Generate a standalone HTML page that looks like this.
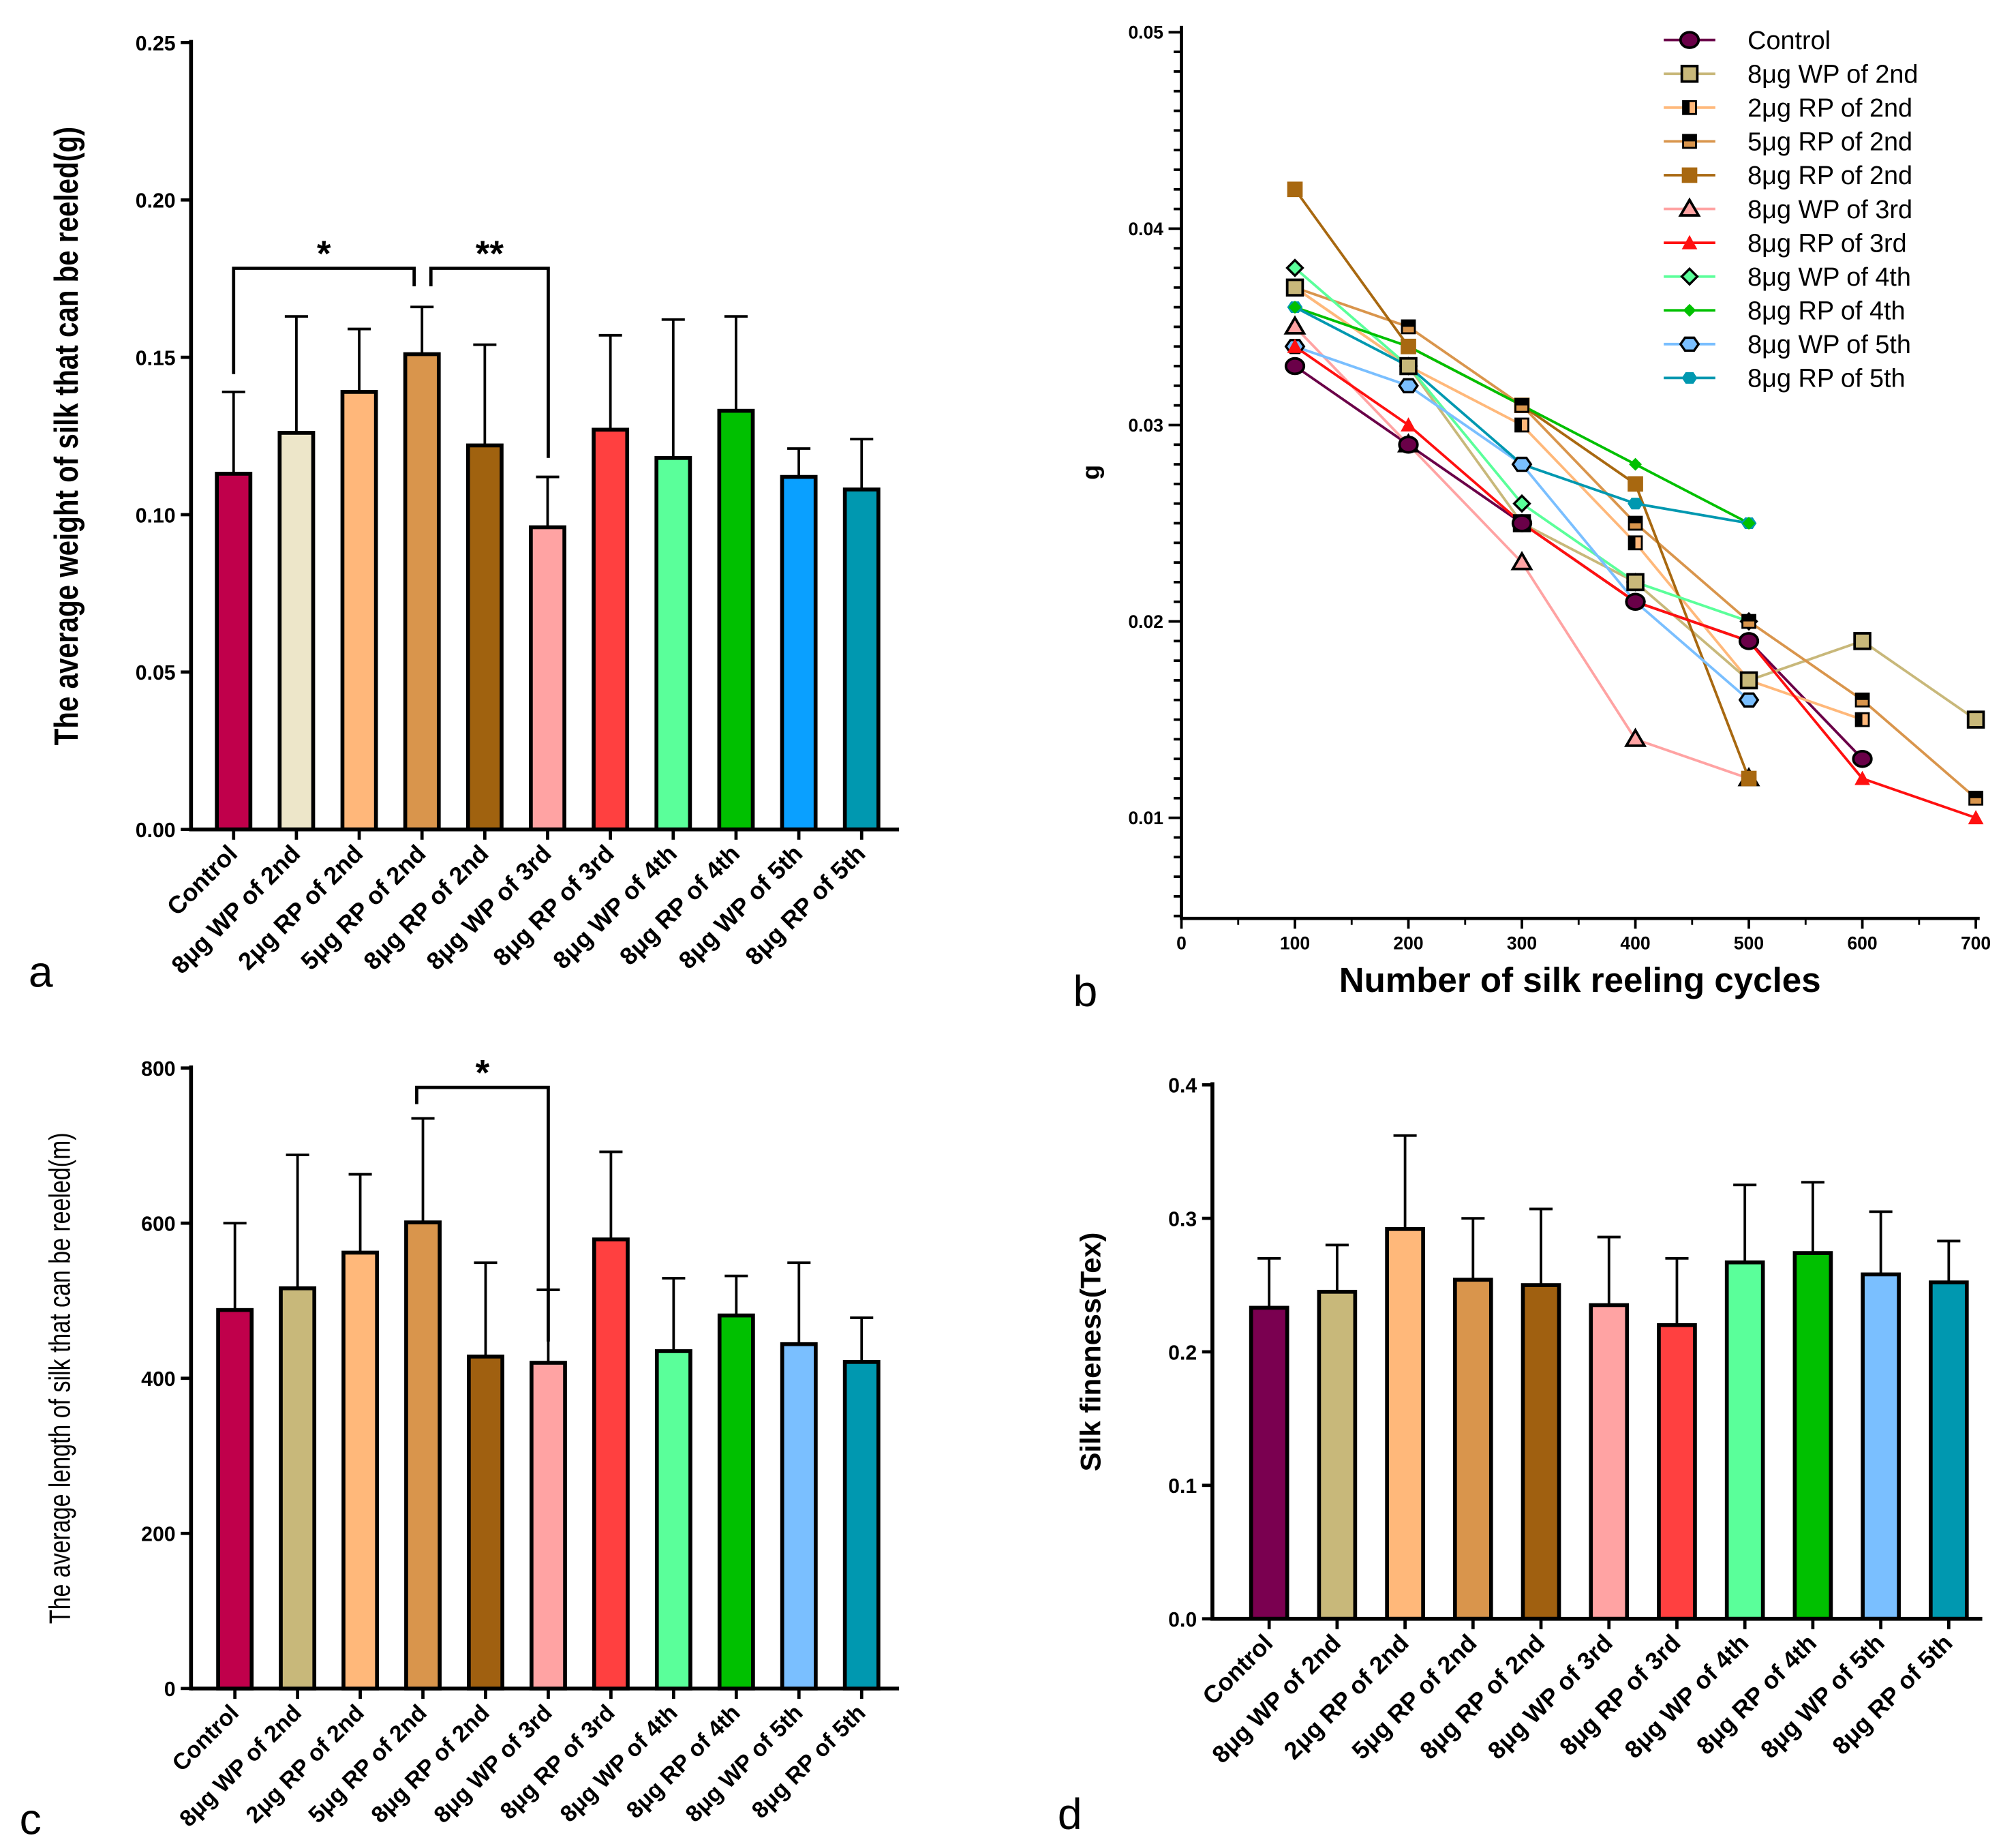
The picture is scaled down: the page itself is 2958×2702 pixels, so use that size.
<!DOCTYPE html>
<html><head><meta charset="utf-8">
<style>html,body{margin:0;padding:0;background:#fff}svg{display:block}text{font-family:"Liberation Sans",Arial,sans-serif}</style>
</head><body>
<svg id="fig" width="2958" height="2702" viewBox="0 0 1563 1428" xmlns="http://www.w3.org/2000/svg"></svg>
<script>
const cats=["Control","8μg WP of 2nd","2μg RP of 2nd","5μg RP of 2nd","8μg RP of 2nd","8μg WP of 3rd","8μg RP of 3rd","8μg WP of 4th","8μg RP of 4th","8μg WP of 5th","8μg RP of 5th"];
const aVals=[0.113,0.126,0.139,0.151,0.122,0.096,0.127,0.118,0.133,0.112,0.108];
const aErr=[0.139,0.163,0.159,0.166,0.154,0.112,0.157,0.162,0.163,0.121,0.124];
const aTicks=[0,0.05,0.10,0.15,0.20,0.25];
const cVals=[488,516,562,601,428,420,579,435,481,444,421];
const cErr=[600,688,663,735,549,514,692,529,532,549,478];
const cTicks=[0,200,400,600,800];
const dVals=[0.233,0.245,0.292,0.254,0.250,0.235,0.220,0.267,0.274,0.258,0.252];
const dErr=[0.270,0.280,0.362,0.300,0.307,0.286,0.270,0.325,0.327,0.305,0.283];
const dTicks=[0,0.1,0.2,0.3,0.4];
const bX=[100,200,300,400,500,600,700];
const bNames=["Control","8μg WP of 2nd","2μg RP of 2nd","5μg RP of 2nd","8μg RP of 2nd","8μg WP of 3rd","8μg RP of 3rd","8μg WP of 4th","8μg RP of 4th","8μg WP of 5th","8μg RP of 5th"];
const bControl=[0.033,0.029,0.025,0.021,0.019,0.013];
const bWP2=[0.037,0.033,0.025,0.022,0.017,0.019,0.015];
const bRP2a=[0.037,0.033,0.030,0.024,0.017,0.015];
const bRP2b=[0.037,0.035,0.031,0.025,0.020,0.016,0.011];
const bRP2c=[0.042,0.034,0.031,0.027,0.012];
const bWP3=[0.035,0.029,0.023,0.014,0.012];
const bRP3=[0.034,0.030,0.025,0.021,0.019,0.012,0.010];
const bWP4=[0.038,0.033,0.026,0.022,0.020];
const bRP4=[0.036,0.034,0.031,0.028,0.025];
const bWP5=[0.034,0.032,0.028,0.021,0.016];
const bRP5=[0.036,0.033,0.028,0.026,0.025];
const bYTicks=[0.01,0.02,0.03,0.04,0.05];
const bXTicks=[0,100,200,300,400,500,600,700];

const NS="http://www.w3.org/2000/svg";const svg=document.getElementById('fig');
function el(t,a,p){const e=document.createElementNS(NS,t);for(const k in a)e.setAttribute(k,a[k]);(p||svg).appendChild(e);return e;}
function tx(s,a,p){const e=el('text',a,p);e.textContent=s;return e;}

function barChart(o){
  const g=el('g',{});
  
  
  const y=v=>o.y0+(v-o.t[0])/(o.t[o.t.length-1]-o.t[0])*(o.y1-o.y0);
  const x=i=>o.xs+i*o.step;
  o.vals.forEach((v,i)=>{
    const eb=el('line',{x1:x(i),x2:x(i),y1:y(v),y2:y(o.err[i]),stroke:'#000','stroke-width':2},g);
    
    const cap=el('line',{x1:x(i)-9,x2:x(i)+9,y1:y(o.err[i]),y2:y(o.err[i]),stroke:'#000','stroke-width':2},g);
    
    const r=el('rect',{x:x(i)-o.bw/2,y:y(v),width:o.bw,height:y(0)-y(v),fill:o.colors[i],stroke:'#000','stroke-width':3},g);
    
    el('line',{x1:x(i),x2:x(i),y1:y(0),y2:y(0)+8,stroke:'#000','stroke-width':2.5},g);
    const l=tx(cats[i],{x:x(i)+4,y:y(0)+20,'text-anchor':'end','font-size':o.fs,'font-weight':'bold',transform:`rotate(-45 ${x(i)+4} ${y(0)+20})`},g);
    
  });
  el('line',{x1:o.ax,x2:o.ax,y1:o.y1-2,y2:y(0)+1.5,stroke:'#000','stroke-width':3},g);
  el('line',{x1:o.ax,x2:o.xe,y1:y(0),y2:y(0),stroke:'#000','stroke-width':3},g);
  o.t.forEach(t=>{el('line',{x1:o.ax-8,x2:o.ax,y1:y(t),y2:y(t),stroke:'#000','stroke-width':2.5},g);
    const tl=tx(o.fmt(t),{x:o.ax-12,y:y(t)+6,'text-anchor':'end','font-size':16,'font-weight':'bold'},g);
    });
  const yt=tx(o.title,{x:0,y:0,'text-anchor':'middle','font-size':o.tfs,'font-weight':o.tw,transform:`translate(${o.tx},${(o.y1+y(0))/2}) rotate(-90) scale(${o.sx},1)`},g);
  
  return {g,y,x};
}
const colA=['#c0004b','#ede6c9','#ffb77a','#d9954c','#a0620f','#ffa3a3','#ff4040','#5aff9a','#00c000','#0aa0ff','#0098b0'];
const colC=['#c0004b','#c8b87a','#ffb87a','#d9954c','#a06010','#ffa3a3','#ff4040','#5aff9a','#00c000','#7abfff','#0098b0'];
const colD=['#7a0050','#c8b87a','#ffb87a','#d9954c','#a06010','#ffa3a3','#ff4040','#5aff9a','#00c000','#7abfff','#0098b0'];

const A=barChart({name:'panel-a-chart',vals:aVals,err:aErr,t:aTicks,y0:643,y1:33,xs:181,step:48.7,bw:26,ax:148,xe:697,colors:colA,fs:19,fmt:v=>v.toFixed(2),title:'The average weight of silk that can be reeled(g)',tx:60,tfs:26,tw:'bold',sx:0.82});
function bracket(g,x1,x2,yb,ya1,ya2,s){el('path',{d:`M${x1} ${ya1} V${yb} H${x2} V${ya2}`,fill:'none',stroke:'#000','stroke-width':2.5},g);
  const t=tx(s,{x:(x1+x2)/2,y:yb-2,'text-anchor':'middle','font-size':28,'font-weight':'bold'},g);}
bracket(A.g,181,321,208,290,222,'*');
bracket(A.g,334,425,208,222,355,'**');

const C=barChart({name:'panel-c-chart',vals:cVals,err:cErr,t:cTicks,y0:1309,y1:828,xs:182,step:48.6,bw:26,ax:148,xe:697,colors:colC,fs:18,fmt:v=>String(v),title:'The average length of silk that can be reeled(m)',tx:54,tfs:23,tw:'normal',sx:0.78});
bracket(C.g,323,425,843,856,1040,'*');

const D=barChart({name:'panel-d-chart',vals:dVals,err:dErr,t:dTicks,y0:1255,y1:841,xs:984,step:52.7,bw:28,ax:940,xe:1537,colors:colD,fs:19,fmt:v=>v.toFixed(1),title:'Silk fineness(Tex)',tx:853,tfs:22,tw:'bold',sx:1});

const gb=el('g',{});


const bx=v=>916+v*0.88, by=v=>634-(v-0.01)*15225;
el('line',{x1:916,x2:916,y1:20,y2:713,stroke:'#000','stroke-width':2.5},gb);
el('line',{x1:915,x2:1535,y1:712,y2:712,stroke:'#000','stroke-width':2.5},gb);
for(let v=0.005;v<=0.0501;v+=0.001){const maj=Math.abs(Math.round(v*100)-v*100)<1e-6;el('line',{x1:maj?906:910,x2:916,y1:by(v),y2:by(v),stroke:'#000','stroke-width':2},gb);}
bYTicks.forEach(t=>{const l=tx(t.toFixed(2),{x:902,y:by(t)+5,'text-anchor':'end','font-size':14,'font-weight':'bold'},gb);});
bXTicks.forEach(t=>{el('line',{x1:bx(t),x2:bx(t),y1:712,y2:720,stroke:'#000','stroke-width':2},gb);
 const l=tx(String(t),{x:bx(t),y:736,'text-anchor':'middle','font-size':14,'font-weight':'bold'},gb);});
for(let v=50;v<700;v+=100)el('line',{x1:bx(v),x2:bx(v),y1:712,y2:717,stroke:'#000','stroke-width':1.5},gb);
let t1=tx('Number of silk reeling cycles',{x:1225,y:769,'text-anchor':'middle','font-size':27,'font-weight':'bold'},gb);
let t2=tx('g',{x:0,y:0,'font-size':19,'font-weight':'bold',transform:'translate(852,372) rotate(-90)'},gb);

const series=[[bControl,'#6a0048','circle','#6a0048'],[bWP2,'#c8b87a','square','#c8b87a'],[bRP2a,'#ffb87a','halfL','#ffb87a'],[bRP2b,'#d9954c','halfT','#d9954c'],[bRP2c,'#a86810','squareF','#a86810'],[bWP3,'#ffa3a3','tri','#ffa3a3'],[bRP3,'#ff1010','triF','#ff1010'],[bWP4,'#5aff9a','diamond','#5aff9a'],[bRP4,'#00c000','diamondF','#00c000'],[bWP5,'#7abfff','hex','#7abfff'],[bRP5,'#0098b0','hexF','#0098b0']];
function marker(p,type,cx,cy,c,s){s=s||1;
 if(type=='circle')el('ellipse',{cx,cy,rx:7*s,ry:6*s,fill:c,stroke:'#000','stroke-width':2},p);
 else if(type=='square')el('rect',{x:cx-6*s,y:cy-6*s,width:12*s,height:12*s,fill:c,stroke:'#000','stroke-width':2},p);
 else if(type=='squareF')el('rect',{x:cx-6*s,y:cy-6*s,width:12*s,height:12*s,fill:c},p);
 else if(type=='halfL'){el('rect',{x:cx-5,y:cy-5,width:10,height:10,fill:c,stroke:'#000','stroke-width':1.5},p);el('rect',{x:cx-5,y:cy-5,width:5,height:10,fill:'#000'},p);}
 else if(type=='halfT'){el('rect',{x:cx-5,y:cy-5,width:10,height:10,fill:c,stroke:'#000','stroke-width':1.5},p);el('rect',{x:cx-5,y:cy-5,width:10,height:5,fill:'#000'},p);}
 else if(type=='tri')el('polygon',{points:`${cx},${cy-7} ${cx+7},${cy+5} ${cx-7},${cy+5}`,fill:c,stroke:'#000','stroke-width':2},p);
 else if(type=='triF')el('polygon',{points:`${cx},${cy-6} ${cx+6},${cy+5} ${cx-6},${cy+5}`,fill:c},p);
 else if(type=='diamond')el('polygon',{points:`${cx},${cy-6} ${cx+6},${cy} ${cx},${cy+6} ${cx-6},${cy}`,fill:c,stroke:'#000','stroke-width':1.8},p);
 else if(type=='diamondF')el('polygon',{points:`${cx},${cy-5} ${cx+5},${cy} ${cx},${cy+5} ${cx-5},${cy}`,fill:c},p);
 else if(type=='hex')el('polygon',{points:`${cx-7},${cy} ${cx-3.5},${cy-5} ${cx+3.5},${cy-5} ${cx+7},${cy} ${cx+3.5},${cy+5} ${cx-3.5},${cy+5}`,fill:c,stroke:'#000','stroke-width':1.8},p);
 else el('polygon',{points:`${cx-6},${cy} ${cx-3},${cy-4.5} ${cx+3},${cy-4.5} ${cx+6},${cy} ${cx+3},${cy+4.5} ${cx-3},${cy+4.5}`,fill:c},p);
}
series.forEach((s,k)=>{const [vals,col,type,fill]=s;
 const ln=el('polyline',{points:vals.map((v,i)=>bx(bX[i])+','+by(v)).join(' '),fill:'none',stroke:col,'stroke-width':2},gb);
 });
series.slice().reverse().forEach(s=>{const [vals,col,type,fill]=s;vals.forEach((v,i)=>marker(gb,type,bx(bX[i]),by(v),fill));});
bNames.forEach((n,k)=>{const yy=31+k*26.2;const s=series[k];
 const lg=el('g',{},gb);
 
 
 el('line',{x1:1290,x2:1330,y1:yy,y2:yy,stroke:s[1],'stroke-width':2},lg);
 marker(lg,s[2],1310,yy,s[3]);
 tx(n,{x:1355,y:yy+7,'font-size':20},lg);});

[['a',22,765],['b',832,780],['c',15,1422],['d',820,1418]].forEach(p=>{const t=tx(p[0],{x:p[1],y:p[2],'font-size':34},svg);});
</script>
</body></html>
